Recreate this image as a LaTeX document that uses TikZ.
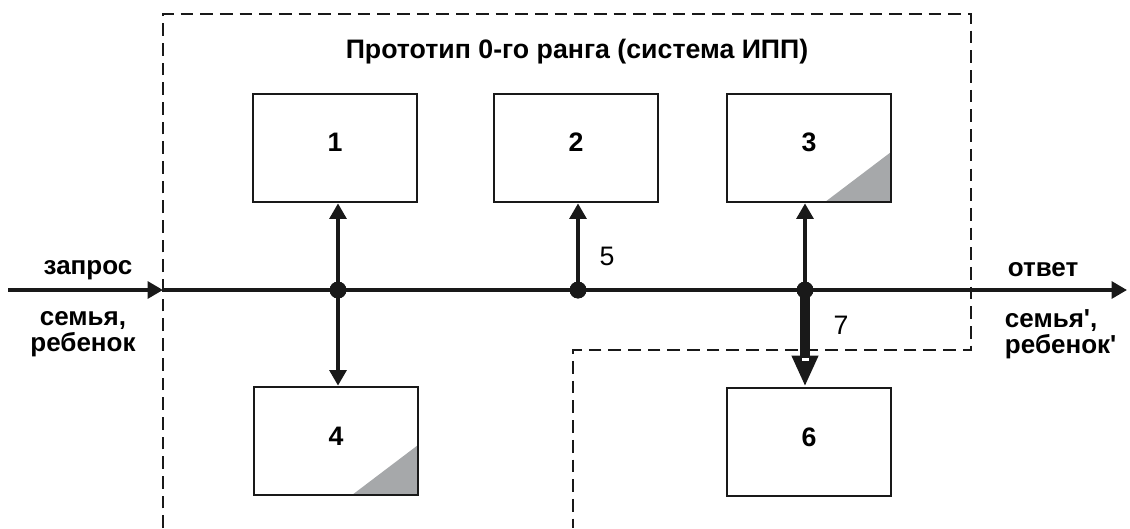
\documentclass[tikz,border=0pt]{standalone}
\usepackage{fontspec}
\setmainfont{Liberation Sans}[Ligatures=TeXOff]
\usepackage{tikz}
\usetikzlibrary{arrows.meta, positioning}
\definecolor{cornergrey}{RGB}{166, 168, 170}
\definecolor{inkblack}{RGB}{25, 25, 25}

\tikzset{
    block/.style={draw=inkblack, line width=2pt, rectangle, minimum width=4.1cm, minimum height=2.7cm, inner sep=0pt},
    cornered/.style={path picture={\fill[cornergrey] (path picture bounding box.south east) -- ++(-66,0) -- ++(66,-50) -- cycle;}},
    num/.style={font=\fontsize{19}{21}\selectfont\bfseries},
    side/.style={font=\fontsize{18.5}{18.5}\selectfont\bfseries},
    tip/.style={-{Triangle[length=11pt, width=12pt]}},
    link/.style={line width=2.3pt, draw=inkblack},
    junction/.style={circle, fill=inkblack, minimum size=0.42cm, inner sep=0pt}
}

\begin{document}
\begin{tikzpicture}[x=0.025cm, y=-0.025cm]
\useasboundingbox (0,0) rectangle (1130,528);

% Prototype frame
\draw[inkblack, line width=2.1pt, dash pattern=on 9pt off 5pt]
    (163,528) -- (163,14) -- (971,14) -- (971,350) -- (573,350) -- (573,528);
\node[font=\fontsize{19}{23}\selectfont\bfseries] (title) at (577,52) {Прототип 0-го ранга (система ИПП)};

% Blocks
\node[block, label={[num, yshift=0.15cm]center:1}] (b1) at (335,148) {};
\node[block, label={[num, yshift=0.15cm]center:2}] (b2) at (576,148) {};
\node[block, cornered, label={[num, yshift=0.15cm]center:3}] (b3) at (809,148) {};
\node[block, cornered, label={[num, yshift=0.12cm]center:4}] (b4) at (336,441) {};
\node[block, label={[num, yshift=0.12cm]center:6}] (b6) at (809,442) {};

% Main line
\coordinate (in) at (8,290);
\coordinate (out) at (1127,290);
\coordinate (gate) at (163,290);
\draw[link, line width=2.6pt, tip] (in) -- (gate);
\draw[link, line width=2.6pt, tip] (gate) -- (out);

\node[junction] (j1) at (338,290) {};
\node[junction] (j2) at (578,290) {};
\node[junction] (j3) at (805,290) {};

% Connections to blocks
\draw[link, {Triangle[length=11pt, width=12pt]}-{Triangle[length=11pt, width=12pt]}] (j1 |- b1.south) -- (j1 |- b4.north);
\draw[link, tip] (j2.center) -- (j2 |- b2.south);
\draw[link, tip] (j3.center) -- (j3 |- b3.south);
\draw[inkblack, line width=7.8pt, -{Triangle[length=22pt, width=17.5pt]}] (j3.center) -- (j3 |- b6.north);
\fill[white] (802,358) rectangle (809,361);
\node[junction] at (j1) {};
\node[junction] at (j2) {};
\node[junction] at (j3) {};

\node[font=\fontsize{19}{21}\selectfont] (l5) at (607,256) {5};
\node[font=\fontsize{19}{21}\selectfont] (l7) at (841,325) {7};

% Input and output
\node[side] (ask) at (88,270) {запрос};
\node[side, align=center] (fam) at (83,334) {семья,\\ребенок};
\node[side] (ans) at (1043,270) {ответ};
\node[side, align=left, anchor=west] (famout) at (1000,334) {семья',\\ребенок'};
\end{tikzpicture}
\end{document}
